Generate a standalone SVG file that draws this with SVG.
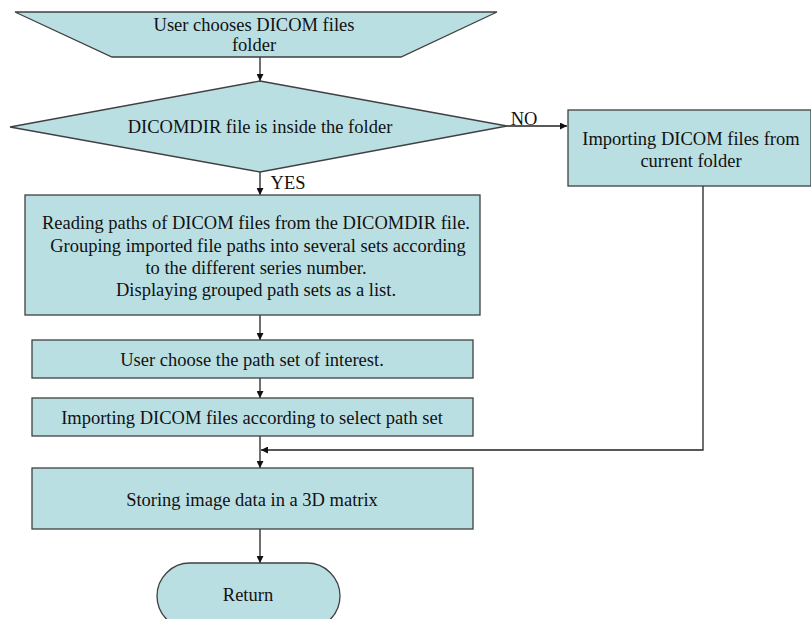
<svg xmlns="http://www.w3.org/2000/svg" width="811" height="619" viewBox="0 0 811 619">
<style>
.n{fill:#badfe3;stroke:#404040;stroke-width:1.3}
.t{font-family:"Liberation Serif","Times New Roman",serif;font-size:18.5px;fill:#111;text-anchor:middle}
.c{fill:none;stroke:#222;stroke-width:1.3}
</style>
<defs>
<marker id="a" viewBox="0 0 10 10" refX="10" refY="5" markerWidth="7" markerHeight="7" orient="auto" markerUnits="userSpaceOnUse">
<path d="M0,0 L10,5 L0,10 z" fill="#111"/>
</marker>
</defs>
<rect width="811" height="619" fill="#fff"/>
<g id="connectors">
<line class="c" x1="260" y1="57" x2="260" y2="81" marker-end="url(#a)"/>
<line class="c" x1="507" y1="126" x2="567" y2="126" marker-end="url(#a)"/>
<line class="c" x1="260" y1="172" x2="260" y2="195" marker-end="url(#a)"/>
<line class="c" x1="260" y1="315" x2="260" y2="340" marker-end="url(#a)"/>
<line class="c" x1="260" y1="378" x2="260" y2="398" marker-end="url(#a)"/>
<line class="c" x1="260" y1="436" x2="260" y2="468" marker-end="url(#a)"/>
<polyline class="c" points="703,186 703,450 261,450" marker-end="url(#a)"/>
<line class="c" x1="260" y1="529" x2="260" y2="563" marker-end="url(#a)"/>
<text class="t" x="524" y="125">NO</text>
<text class="t" x="288" y="189">YES</text>
</g>
<g id="n1">
<polygon class="n" points="15,12 497,12 401,57 112,57"/>
<text class="t" x="254" y="31">User chooses DICOM files</text>
<text class="t" x="254" y="51">folder</text>
</g>
<g id="n2">
<polygon class="n" points="260,81 507,126 260,172 10,127"/>
<text class="t" x="260" y="133">DICOMDIR file is inside the folder</text>
</g>
<g id="n3">
<rect class="n" x="568" y="110" width="243" height="76"/>
<text class="t" x="691" y="145">Importing DICOM files from</text>
<text class="t" x="691" y="167">current folder</text>
</g>
<g id="n4">
<rect class="n" x="25" y="195" width="455" height="120"/>
<text class="t" x="256" y="229">Reading paths of DICOM files from the DICOMDIR file.</text>
<text class="t" x="258" y="252">Grouping imported file paths into several sets according</text>
<text class="t" x="256" y="274">to the different series number.</text>
<text class="t" x="256" y="296">Displaying grouped path sets as a list.</text>
</g>
<g id="n5">
<rect class="n" x="32" y="340" width="441" height="38"/>
<text class="t" x="252" y="366">User choose the path set of interest.</text>
</g>
<g id="n6">
<rect class="n" x="32" y="398" width="441" height="38"/>
<text class="t" x="252" y="424">Importing DICOM files according to select path set</text>
</g>
<g id="n7">
<rect class="n" x="32" y="468" width="441" height="61"/>
<text class="t" x="252" y="506">Storing image data in a 3D matrix</text>
</g>
<g id="n8">
<rect class="n" x="157" y="563" width="183" height="66" rx="33" ry="33"/>
<text class="t" x="248" y="601">Return</text>
</g>
</svg>
